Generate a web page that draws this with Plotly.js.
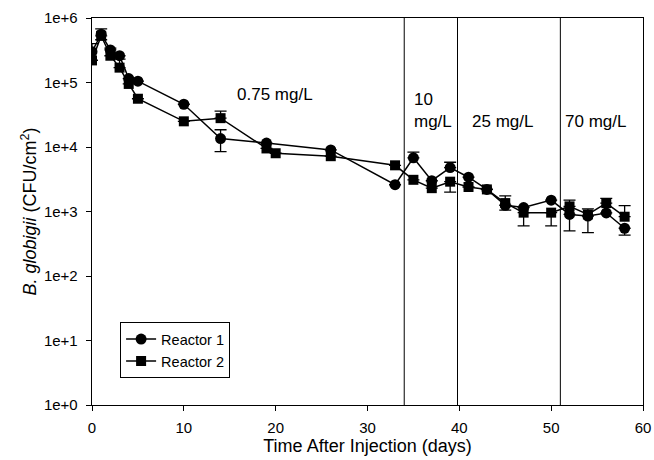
<!DOCTYPE html>
<html><head><meta charset="utf-8">
<script src="https://cdn.plot.ly/plotly-3.0.1.min.js"></script>
<style>body{margin:0;background:#fff}#c{width:654px;height:460px}</style>
</head><body><div id="c"></div>
<script>
// Reactor 1 (circles)
const days1 = [0,1,2,3,4,5,10,14,19,26,33,35,37,39,41,43,45,47,50,52,54,56,58];
const cfu1  = [3.0e5,5.6e5,3.2e5,2.6e5,1.15e5,1.05e5,4.6e4,1.35e4,1.15e4,9.0e3,2.6e3,6.8e3,3.0e3,4.8e3,3.4e3,2.2e3,1.25e3,1.15e3,1.5e3,900,850,950,550];
const err1p = [1.0e5,1.2e5,0,0,0,0,0,5.0e3,0,0,0,1.5e3,0,1.0e3,0,0,0,0,0,0,0,0,0];
const err1m = [0.8e5,1.0e5,0,0,0,0,0,5.0e3,0,0,0,0,0,0,0,0,0,0,0,400,0,0,120];
// Reactor 2 (squares)
const days2 = [0,1,2,3,4,5,10,14,19,20,26,33,35,37,39,41,43,45,47,50,52,54,56,58];
const cfu2  = [2.2e5,5.3e5,2.6e5,1.7e5,9.5e4,5.6e4,2.5e4,2.8e4,9.5e3,8.0e3,7.2e3,5.2e3,3.1e3,2.3e3,2.9e3,2.4e3,2.2e3,1.35e3,960,960,1.2e3,900,1.35e3,830];
const err2p = [0,0,0.8e5,0.6e5,0,0,0,8.0e3,0,0,0,0,0,0,0,0,0,400,0,0,300,200,250,400];
const err2m = [0,0,0,0,0,0,0,0,0,0,0,0,0,0,900,0,0,300,360,360,0,430,0,0];
// Concentration phases
const phaseBounds = [34, 39.8, 51];
const phaseLabels = ["0.75 mg/L","10<br>mg/L","25 mg/L","70 mg/L"];
const phaseLabelX = [19.9, 34.8, 41.2, 51.3];
const phaseLabelY = [4.81, 4.56, 4.39, 4.39];
const yTicks = [1,10,100,1e3,1e4,1e5,1e6];
const yTickText = ["1e+0","1e+1","1e+2","1e+3","1e+4","1e+5","1e+6"];

const errStyle = {type:'data', symmetric:false, color:'#000', thickness:1.3, width:6};
const traces = [
  {x:days1, y:cfu1, name:'Reactor 1', mode:'lines+markers', type:'scatter',
   line:{color:'#000', width:1.5}, marker:{symbol:'circle', size:11, color:'#000'},
   error_y:Object.assign({array:err1p, arrayminus:err1m}, errStyle)},
  {x:days2, y:cfu2, name:'Reactor 2', mode:'lines+markers', type:'scatter',
   line:{color:'#000', width:1.5}, marker:{symbol:'square', size:10, color:'#000'},
   error_y:Object.assign({array:err2p, arrayminus:err2m}, errStyle)}
];
const shapes = phaseBounds.map(b => ({type:'line', xref:'x', yref:'paper', x0:b, x1:b, y0:0, y1:1, line:{color:'#000', width:1}}));
const annotations = phaseLabels.map((t,i) => ({text:t, x:phaseLabelX[i], y:phaseLabelY[i], xref:'x', yref:'y',
  xanchor: i===0 ? 'center' : 'left', align:'left', showarrow:false, font:{size:17, color:'#000'}}));

const layout = {
  width:654, height:460, margin:{l:92, r:11, t:18, b:55},
  paper_bgcolor:'#fff', plot_bgcolor:'#fff',
  font:{family:'Liberation Sans, Arial, sans-serif', color:'#000'},
  showlegend:true,
  legend:{x:0.051, y:0.214, xanchor:'left', yanchor:'top', bordercolor:'#000', borderwidth:1,
          font:{size:14.5}, bgcolor:'#fff', tracegroupgap:0},
  xaxis:{range:[0,60], tickvals:[0,10,20,30,40,50,60], showline:true, mirror:true, linecolor:'#000', linewidth:1.3,
         ticks:'outside', ticklen:5, tickcolor:'#000', showgrid:false, zeroline:false, tickfont:{size:15},
         ticklabelstandoff:4,
         title:{text:'Time After Injection (days)', font:{size:18}, standoff:4}},
  yaxis:{type:'log', range:[0,6], tickvals:yTicks, ticktext:yTickText, showline:true, mirror:true, linecolor:'#000', linewidth:1.3,
         ticks:'outside', ticklen:5, tickcolor:'#000', showgrid:false, zeroline:false, tickfont:{size:15},
         ticklabelstandoff:5,
         title:{text:'<i>B. globigii</i> (CFU/cm<sup>2</sup>)', font:{size:18}, standoff:2}},
  shapes:shapes, annotations:annotations
};
Plotly.newPlot('c', traces, layout, {displayModeBar:false, staticPlot:true});
</script></body></html>
